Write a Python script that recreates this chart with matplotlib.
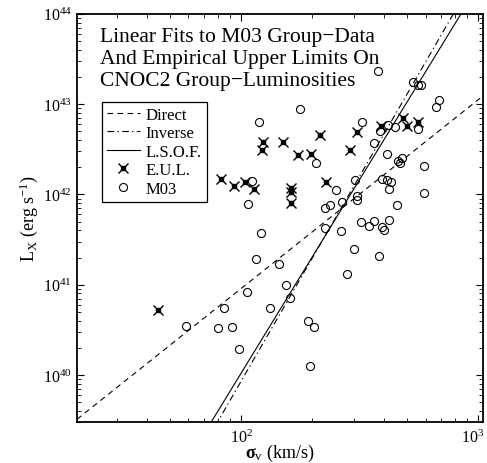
import numpy as np
import matplotlib.pyplot as plt
import matplotlib.transforms as mtransforms
from matplotlib.lines import Line2D

# Schriften: Times-aehnlich
plt.rcParams['font.family'] = ['Liberation Serif', 'DejaVu Serif']
plt.rcParams['mathtext.fontset'] = 'custom'
plt.rcParams['mathtext.rm'] = 'Liberation Serif'
plt.rcParams['mathtext.it'] = 'Liberation Serif:italic'
plt.rcParams['mathtext.bf'] = 'Liberation Serif:bold'

# M03 Gruppen (sigma_v in km/s, L_X in erg/s)
sigma_m03 = [378, 532, 557, 577, 687, 663, 178, 119, 325, 416,
             446, 386, 560, 365, 413, 207, 460, 476, 469, 593,
             302, 393, 413, 428, 420, 592, 457, 251, 308, 309,
             266, 238, 227, 111, 107, 121, 322, 363, 347, 420,
             393, 401, 227, 263, 300, 383, 116, 145, 106, 155,
             161, 85, 132, 58.5, 80, 92, 98, 192, 204, 195, 279]
lx_m03 = [2.34e43, 1.78e43, 1.63e43, 1.61e43, 1.11e43, 9.4e42, 8.9e42, 6.4e42, 6.4e42, 5.9e42,
          5.6e42, 5.0e42, 5.3e42, 3.75e42, 2.8e42, 2.2e42, 2.33e42, 2.5e42, 2.23e42, 2.08e42,
          1.45e42, 1.49e42, 1.46e42, 1.38e42, 1.14e42, 1.03e42, 7.6e41, 1.12e42, 9.7e41, 8.7e41,
          8.3e41, 7.6e41, 7.1e41, 1.42e42, 7.85e41, 3.76e41, 4.9e41, 5.1e41, 4.5e41, 5.2e41,
          4.3e41, 4.0e41, 4.2e41, 3.9e41, 2.46e41, 2.06e41, 1.91e41, 1.69e41, 8.4e40, 9.8e40,
          7.2e40, 5.5e40, 5.5e40, 3.45e40, 3.34e40, 3.37e40, 1.95e40, 4.0e40, 3.4e40, 1.26e40, 1.33e41]

# Empirische obere Grenzen (E.U.L.)
sigma_eul = [44.5, 82, 93, 103.5, 113, 124, 123, 150, 174, 197,
             215, 287, 307, 390, 483, 502, 559, 163, 163, 163, 228]
lx_eul = [5.25e40, 1.50e42, 1.25e42, 1.36e42, 1.14e42, 3.77e42, 3.07e42, 3.79e42, 2.73e42, 2.81e42,
          4.56e42, 3.11e42, 4.96e42, 5.78e42, 7.04e42, 5.78e42, 6.36e42, 1.17e42, 1.07e42, 8.1e41, 1.38e42]

# Lineare Fits: log L = a + b log sigma
fit_names = ['Direct', 'Inverse', 'L.S.O.F.']
fit_a = [36.775, 30.844, 31.439]
fit_b = [2.091, 4.543, 4.290]
fit_styles = [(0, (5, 4)), (0, (6, 3, 1.2, 3)), '-']

xlim = (20.3, 1050)
ylim = (3e39, 1e44)
x_ticks = [100, 1000]
x_ticklabels = [r'$10^{2}$', r'$10^{3}$']

fig = plt.figure(figsize=(4.87, 4.64), dpi=100)
ax = fig.add_axes([0.158, 0.088, 0.834, 0.880])

# Fit-Linien
log_x = np.log10(np.array(xlim))
handles = []
for name, a, b, ls in zip(fit_names, fit_a, fit_b, fit_styles):
    line, = ax.plot(10 ** log_x, 10 ** (a + b * log_x), color='black',
                    linestyle=ls, linewidth=0.8, label=name)
    handles.append(line)

# Datenpunkte
ax.plot(sigma_eul, lx_eul, linestyle='none', marker='x', color='black',
        markersize=6.5, markeredgewidth=1.0)
ax.plot(sigma_eul, lx_eul, linestyle='none', marker='s', color='black',
        markersize=2.3)
ax.plot(sigma_m03, lx_m03, linestyle='none', marker='o', markerfacecolor='none',
        markeredgecolor='black', markersize=5.8, markeredgewidth=0.8)

eul_handle = (Line2D([], [], linestyle='none', marker='x', color='black',
                     markersize=6.5, markeredgewidth=1.0),
              Line2D([], [], linestyle='none', marker='s', color='black', markersize=2.3))
m03_handle = Line2D([], [], linestyle='none', marker='o', markerfacecolor='none',
                    markeredgecolor='black', markersize=5.8, markeredgewidth=0.8)

ax.set_xscale('log')
ax.set_yscale('log')
ax.set_xlim(xlim)
ax.set_ylim(ylim)
ax.set_xticks(x_ticks)
ax.set_xticklabels(x_ticklabels)

ax.tick_params(which='both', direction='in', top=True, right=True, labelsize=11.5)
ax.tick_params(which='major', length=5, width=0.8)
ax.tick_params(which='minor', length=3, width=0.6)
ax.tick_params(axis='x', which='major', pad=5)
for spine in ax.spines.values():
    spine.set_linewidth(1.3)

# letztes Label etwas nach links, damit es nicht abgeschnitten wird
last = ax.get_xticklabels()[-1]
last.set_transform(last.get_transform() +
                   mtransforms.ScaledTranslation(-4 / 72, 0, fig.dpi_scale_trans))

ax.set_xlabel(r'$\mathbf{\sigma}_{\rm v}$ (km/s)', fontsize=13, labelpad=-3)
ax.set_ylabel(r'L$_{\rm X}$ (erg s$^{-1}$)', fontsize=13, labelpad=2)

# Titel im Plot
ax.text(0.057, 0.968,
        'Linear Fits to M03 Group\u2212Data\nAnd Empirical Upper Limits On\nCNOC2 Group\u2212Luminosities',
        transform=ax.transAxes, ha='left', va='top', fontsize=15.5, linespacing=1.22)

leg = ax.legend(handles + [eul_handle, m03_handle],
                fit_names + ['E.U.L.', 'M03'],
                loc='upper left', bbox_to_anchor=(0.061, 0.785), borderaxespad=0,
                fontsize=12, handlelength=2.0, handletextpad=0.35, labelspacing=0.15,
                borderpad=0.3, numpoints=1, fancybox=False, framealpha=1,
                edgecolor='black')
leg.get_frame().set_linewidth(0.9)

fig.savefig('out.png', dpi=100)
